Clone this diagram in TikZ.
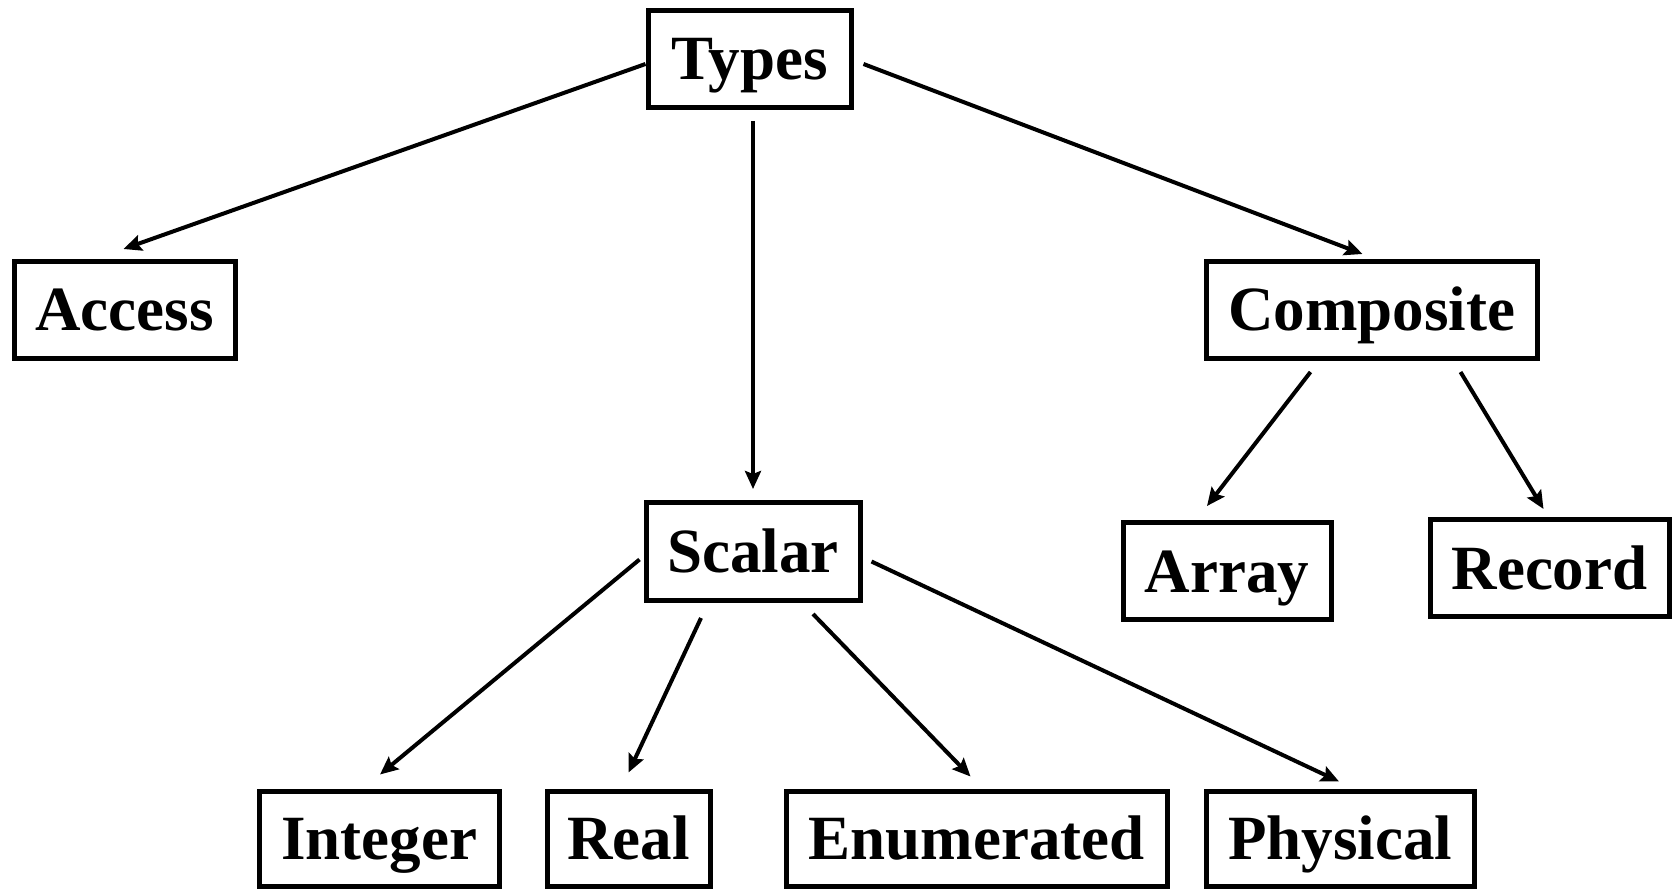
\documentclass[tikz,border=0pt]{standalone}
\usepackage{fontspec}
\setmainfont{Liberation Serif}
\usetikzlibrary{arrows.meta,calc}
\begin{document}
\begin{tikzpicture}[x=1pt,y=-1pt,
  box/.style={draw,line width=5pt,inner sep=0pt,
    minimum height=97pt,text height=50pt,text depth=8pt,
    font=\fontsize{63}{70}\selectfont\bfseries},
  arr/.style={line width=4pt,
    -{Stealth[length=18pt,width=16pt,inset=3pt]}}]
\useasboundingbox (0,0) rectangle (1679,890);
% type hierarchy boxes
\node[box,minimum width=203pt] (Types) at (749.5,59) {Types};
\node[box,minimum width=221pt] (Access) at (124.5,310) {Access};
\node[box,minimum width=331pt] (Composite) at (1371.5,310) {Composite};
\node[box,minimum width=214pt,minimum height=98pt] (Scalar) at (753,551.5) {Scalar};
\node[box,minimum width=208pt] (Array) at (1227,571) {Array};
\node[box,minimum width=239pt] (Record) at (1549.5,568) {Record};
\node[box,minimum width=240pt,minimum height=95pt] (Integer) at (379,838.5) {Integer};
\node[box,minimum width=163pt,minimum height=95pt] (Real) at (628.5,838.5) {Real};
\node[box,minimum width=381pt,minimum height=95pt] (Enumerated) at (976.5,838.5) {Enumerated};
\node[box,minimum width=268pt,minimum height=95pt] (Physical) at (1340,838.5) {Physical};
% connectors
\draw[arr] ($(Types.west)+(0,5)$) -- ($(Access.north)+(-1,-10)$);
\draw[arr] ($(Scalar.north |- Types.south)+(0,11)$) -- ($(Scalar.north)+(0,-11)$);
\draw[arr] ($(Types.east)+(10,5)$) -- ($(Composite.north)+(-9,-5)$);
\draw[arr] ($(Composite.south)+(-61,11)$) -- ($(Array.north)+(-20,-14)$);
\draw[arr] ($(Composite.south)+(89,11)$) -- ($(Record.north)+(-6,-8)$);
\draw[arr] ($(Scalar.west)+(-4,8)$) -- ($(Integer.north)+(1,-14)$);
\draw[arr] ($(Scalar.south)+(-52,15)$) -- ($(Real.north)+(0,-16)$);
\draw[arr] ($(Scalar.south)+(60,11)$) -- ($(Enumerated.north)+(-6,-12)$);
\draw[arr] ($(Scalar.east)+(9,10)$) -- ($(Physical.north)+(-1,-7)$);
\end{tikzpicture}
\end{document}
